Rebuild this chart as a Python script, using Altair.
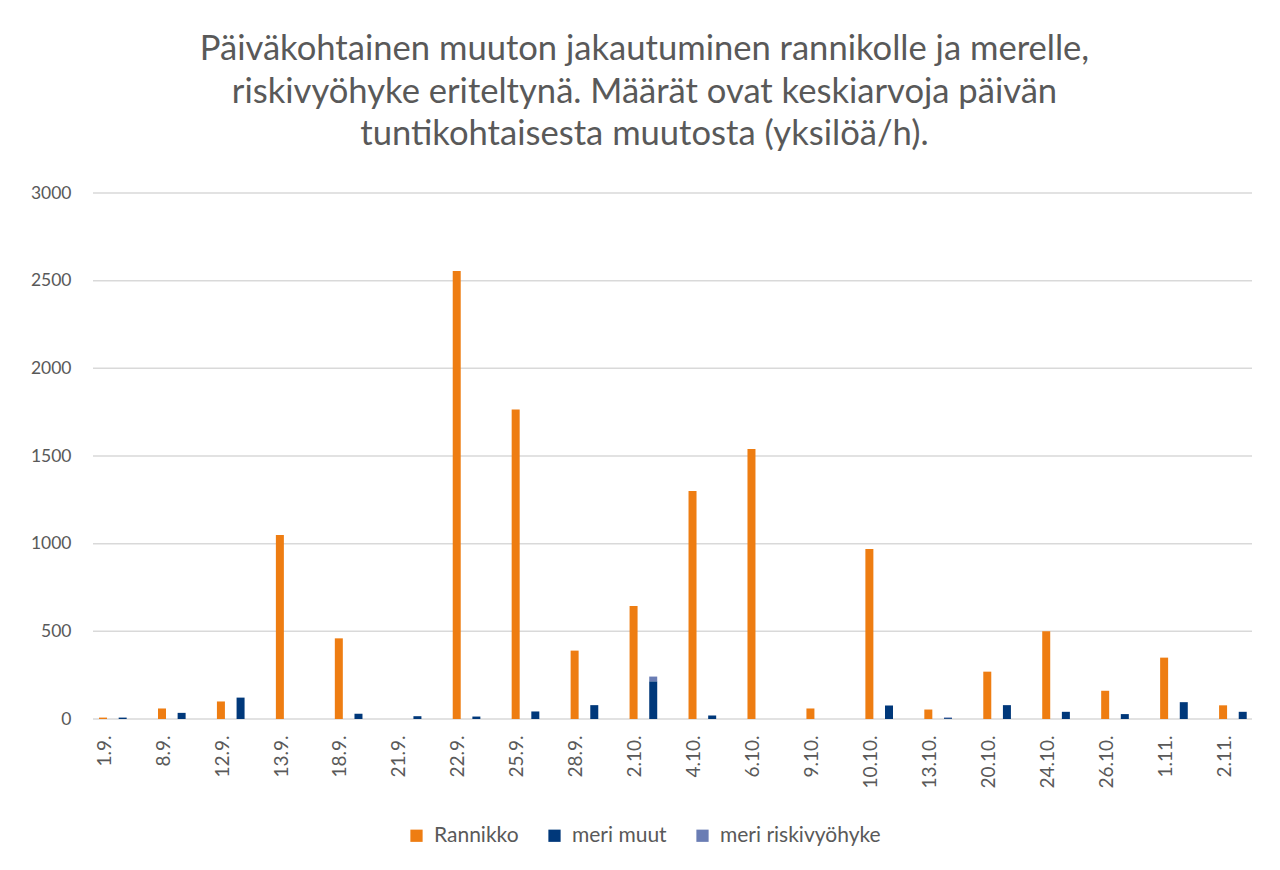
import altair as alt
import pandas as pd

categories = ["1.9.", "8.9.", "12.9.", "13.9.", "18.9.", "21.9.", "22.9.", "25.9.", "28.9.", "2.10.",
              "4.10.", "6.10.", "9.10.", "10.10.", "13.10.", "20.10.", "24.10.", "26.10.", "1.11.", "2.11."]
rannikko = [8, 60, 100, 1050, 460, 0, 2555, 1765, 390, 645,
            1300, 1540, 60, 970, 54, 270, 500, 161, 350, 78]
meri_muut = [8, 35, 122, 0, 30, 16, 14, 43, 79, 215,
             20, 0, 0, 77, 5, 79, 41, 28, 96, 41]
meri_riski = [0, 0, 0, 0, 0, 0, 0, 0, 0, 27,
              0, 0, 0, 0, 4, 0, 0, 0, 0, 0]
y_ticks = [0, 500, 1000, 1500, 2000, 2500, 3000]

series_names = ["Rannikko", "meri muut", "meri riskivyöhyke"]
colors = ["#EE7D12", "#00387A", "#6A7DB4"]

rows = []
for i, c in enumerate(categories):
    rows.append({"cat": c, "series": "Rannikko", "slot": "a", "ord": 0, "value": rannikko[i]})
    rows.append({"cat": c, "series": "meri muut", "slot": "b", "ord": 1, "value": meri_muut[i]})
    rows.append({"cat": c, "series": "meri riskivyöhyke", "slot": "b", "ord": 2, "value": meri_riski[i]})
df = pd.DataFrame(rows)
grid_df = pd.DataFrame({"value": y_ticks})

text_color = "#595959"
font = "Lato"
W, H = 1159, 526

yscale = alt.Scale(domain=[0, 3000], nice=False)
yaxis = alt.Axis(values=y_ticks, format="d", grid=False, title=None,
                 domain=False, ticks=False, labelPadding=22,
                 labelFontSize=17.5, labelColor=text_color, labelFont=font)

grid = alt.Chart(grid_df).mark_rule(color="#D9D9D9", strokeWidth=1.5).encode(
    y=alt.Y("value:Q", scale=yscale, axis=yaxis, title=None),
    x=alt.value(0), x2=alt.value(W),
)

bars = alt.Chart(df).mark_bar(width=8).encode(
    x=alt.X("cat:N", sort=categories, title=None,
            scale=alt.Scale(paddingInner=0, paddingOuter=0, range=[0.2, 1179.2]),
            axis=alt.Axis(labelAngle=270, labelAlign="right", labelBaseline="middle",
                          labelOffset=-18, labelPadding=16, ticks=False,
                          domain=False, grid=False,
                          labelFontSize=19, labelColor=text_color, labelFont=font)),
    xOffset=alt.XOffset("slot:N", scale=alt.Scale(domain=["a", "b", "c"], paddingInner=0.586, paddingOuter=0.293)),
    y=alt.Y("value:Q", stack="zero", title=None, scale=yscale, axis=yaxis),
    color=alt.Color("series:N", scale=alt.Scale(domain=series_names, range=colors),
                    legend=alt.Legend(title=None, orient="none", legendX=313, legendY=632,
                                      direction="horizontal", columnPadding=25,
                                      symbolType="square", symbolSize=150, symbolStrokeWidth=0,
                                      labelFontSize=21, labelColor=text_color, labelFont=font,
                                      labelOffset=7, labelLimit=0)),
    order=alt.Order("ord:Q"),
)

chart = alt.layer(grid, bars).properties(
    width=W,
    height=H,
    background="white",
    autosize=alt.AutoSizeParams(type="none"),
    padding={"left": 85, "top": 185, "right": 20, "bottom": 143},
    title=alt.Title(
        ["Päiväkohtainen muuton jakautuminen rannikolle ja merelle,",
         "riskivyöhyke eriteltynä. Määrät ovat keskiarvoja päivän",
         "tuntikohtaisesta muutosta (yksilöä/h)."],
        fontSize=34.6, font=font, fontWeight="normal", color=text_color,
        anchor="middle", frame="group", dx=-28, offset=31, lineHeight=42.5),
).configure_view(strokeWidth=0, stroke="transparent")

chart.save("out.html", embed_options={"renderer": "svg", "actions": False})
